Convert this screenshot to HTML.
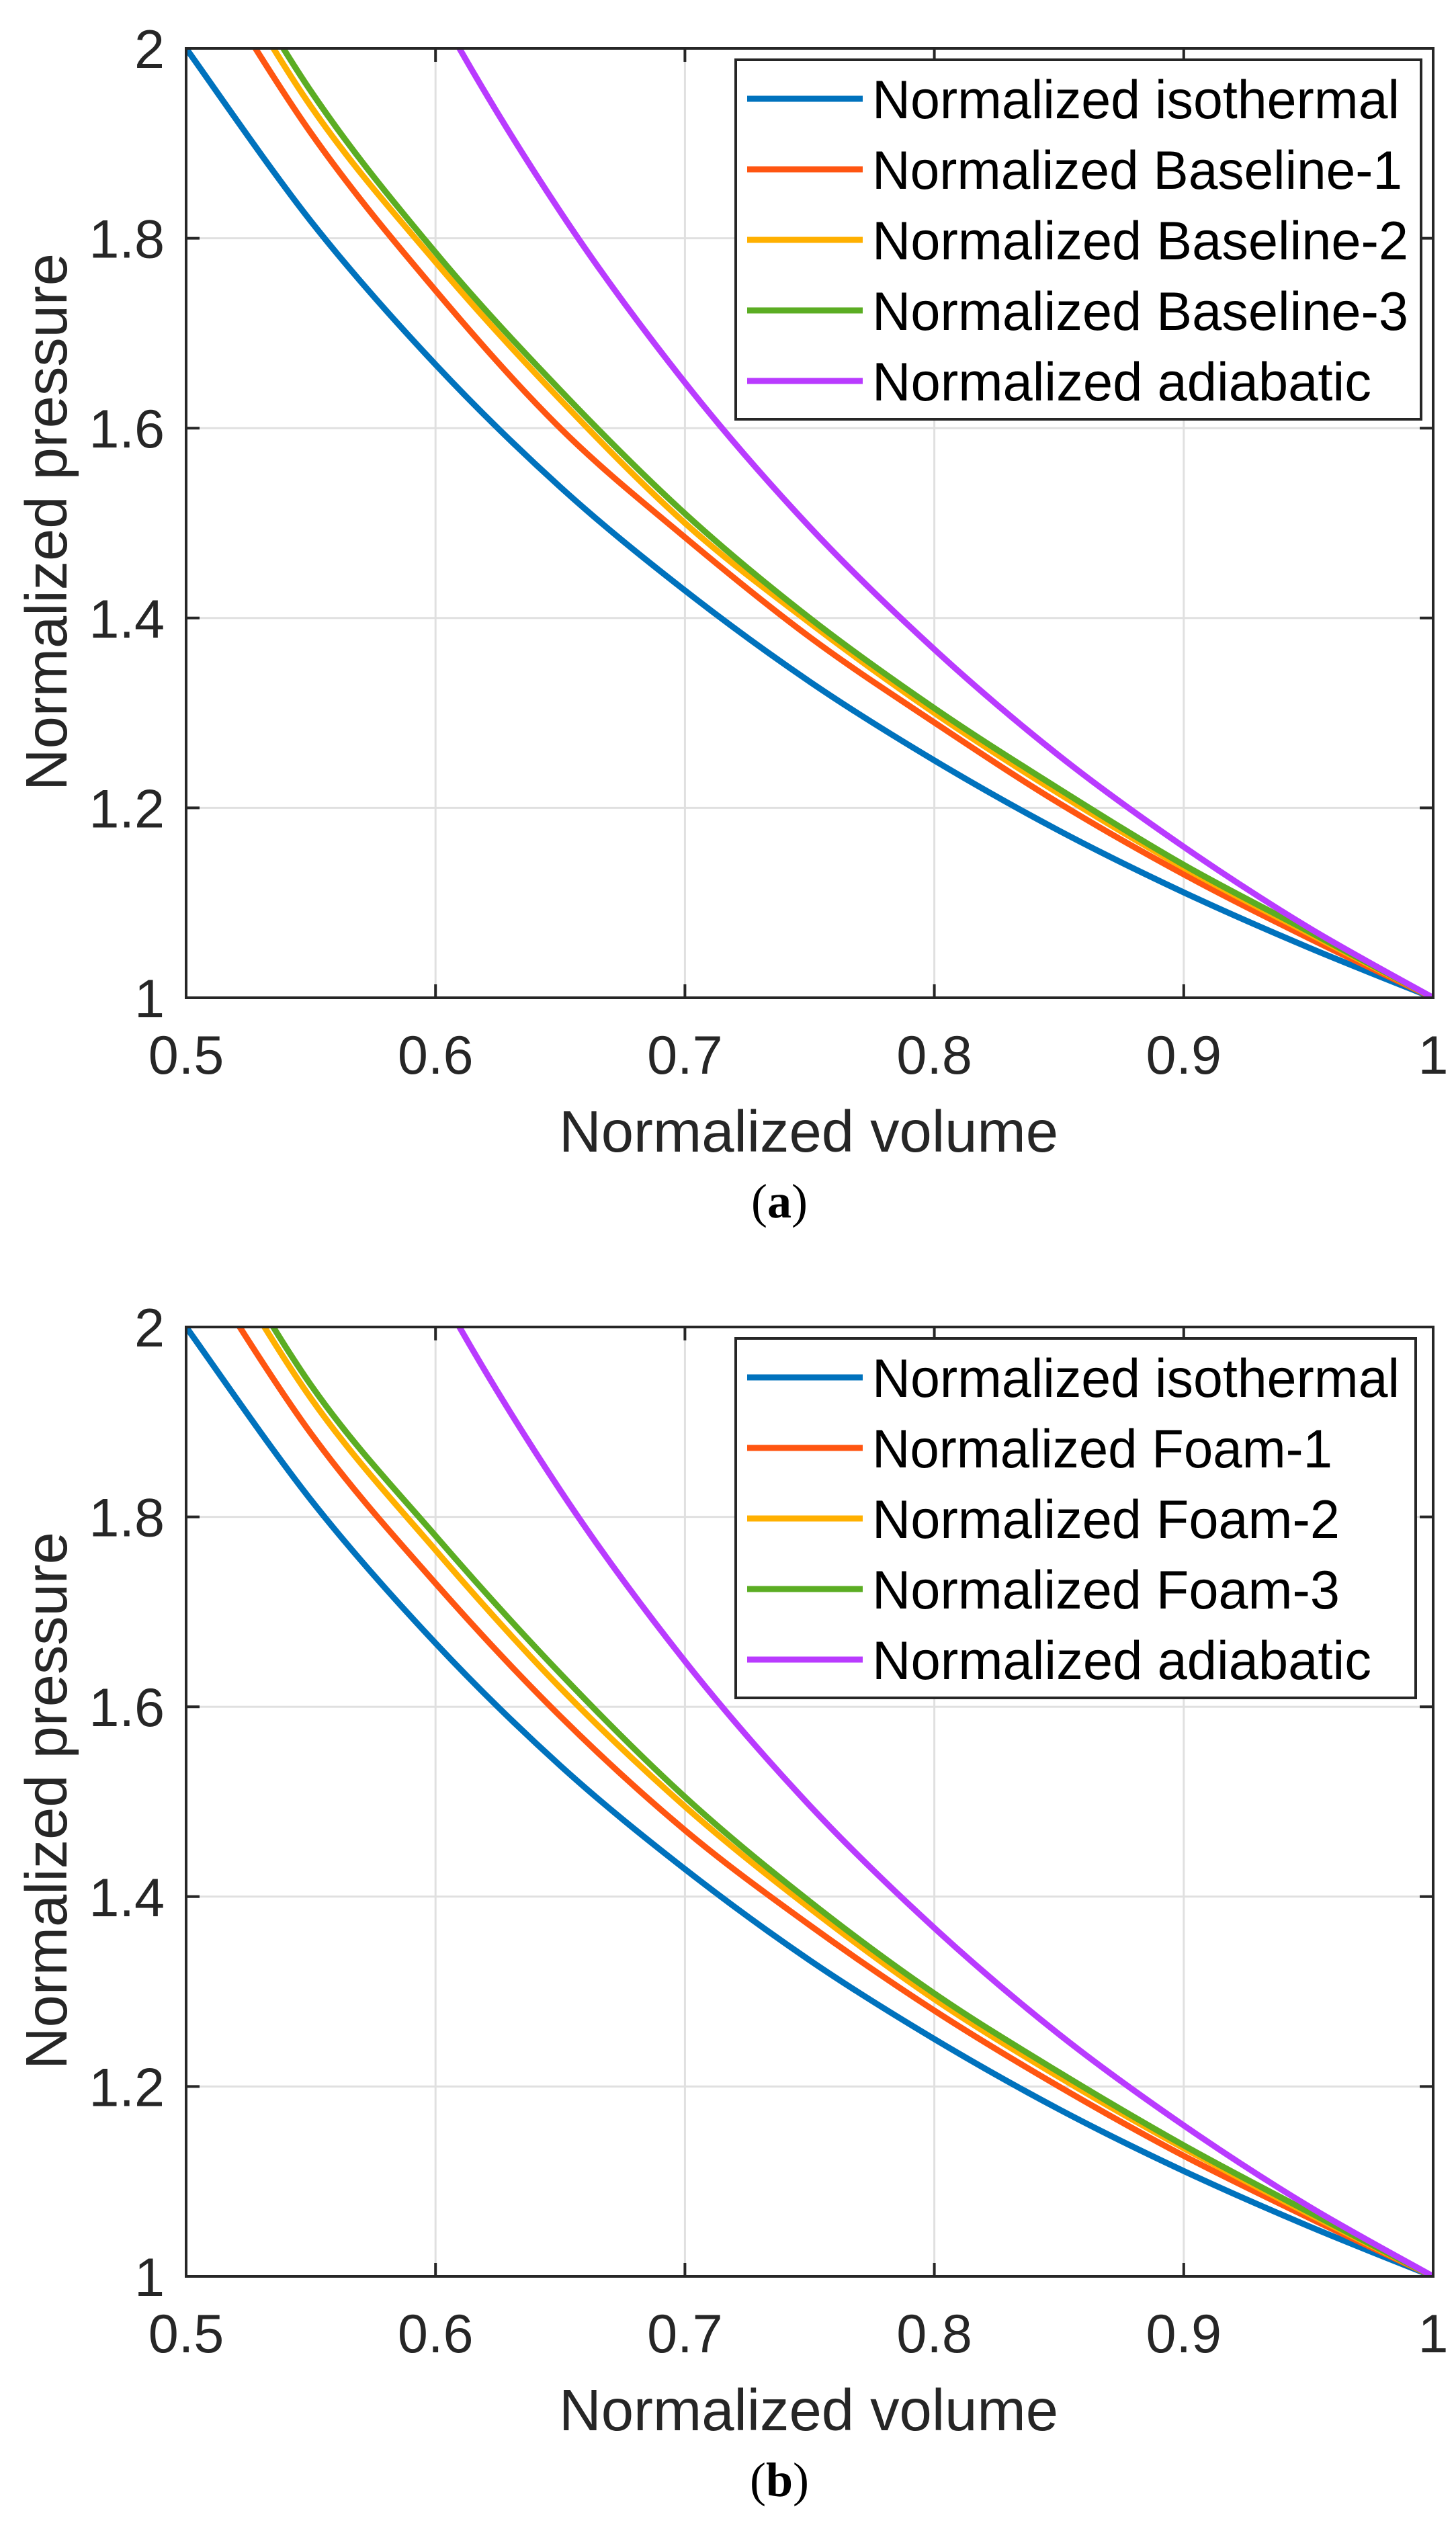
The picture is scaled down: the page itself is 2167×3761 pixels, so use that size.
<!DOCTYPE html>
<html><head><meta charset="utf-8"><style>html,body{margin:0;padding:0;background:#fff}svg{display:block}</style></head>
<body>
<svg id="fig" xmlns="http://www.w3.org/2000/svg" width="2167" height="3761" viewBox="0 0 2167 3761"></svg>
<script>
// shared x samples (normalized volume)
const volumes = [0.5,0.55,0.6,0.65,0.7,0.75,0.8,0.85,0.9,0.95,1.0];
const xTicks = [0.5,0.6,0.7,0.8,0.9,1];
const xTickLabels = ["0.5","0.6","0.7","0.8","0.9","1"];
const yTicks = [1,1.2,1.4,1.6,1.8,2];
const yTickLabels = ["1","1.2","1.4","1.6","1.8","2"];
// panel (a)
const isothermal = [2,1.818,1.667,1.538,1.429,1.333,1.25,1.176,1.111,1.053,1];
const baseline1 = [2.118,1.911,1.745,1.600,1.485,1.380,1.290,1.205,1.130,1.063,1];
const baseline2 = [2.155,1.939,1.775,1.630,1.500,1.395,1.300,1.215,1.137,1.068,1];
const baseline3 = [2.173,1.955,1.785,1.640,1.510,1.400,1.305,1.220,1.140,1.070,1];
const adiabatic = [2.639,2.309,2.045,1.828,1.648,1.496,1.367,1.255,1.159,1.074,1];
// panel (b)
const foam1 = [2.089,1.888,1.730,1.590,1.470,1.370,1.280,1.200,1.127,1.062,1];
const foam2 = [2.137,1.925,1.765,1.620,1.495,1.388,1.292,1.210,1.135,1.066,1];
const foam3 = [2.155,1.939,1.780,1.635,1.505,1.395,1.298,1.215,1.138,1.068,1];
const labelsA = ["Normalized isothermal","Normalized Baseline-1","Normalized Baseline-2","Normalized Baseline-3","Normalized adiabatic"];
const labelsB = ["Normalized isothermal","Normalized Foam-1","Normalized Foam-2","Normalized Foam-3","Normalized adiabatic"];

const NS="http://www.w3.org/2000/svg";
const svg=document.getElementById('fig');
const colors=["#0072BD","#FF5511","#FFB000","#5BAD23","#B93BFF"];
function mk(tag,attrs,parent){const e=document.createElementNS(NS,tag);for(const k in attrs)e.setAttribute(k,attrs[k]);(parent||svg).appendChild(e);return e;}

function panel(id,oy,series,labels,legW,textW,caption){
  const L=277,R=2133,T=72+oy,B=1485+oy;
  const sx=v=>L+(v-0.5)/0.5*(R-L);
  const sy=p=>B-(p-1)/1*(B-T);
  const g=mk('g',{});
  
  
  const cp=mk('clipPath',{id:'clip'+id},g);
  mk('rect',{x:L,y:T,width:R-L,height:B-T},cp);
  xTicks.forEach(v=>{if(v>0.5&&v<1){const l=mk('line',{x1:sx(v),x2:sx(v),y1:T,y2:B,stroke:'#e0e0e0','stroke-width':3},g);
    
    }});
  yTicks.forEach(p=>{if(p>1&&p<2){const l=mk('line',{x1:L,x2:R,y1:sy(p),y2:sy(p),stroke:'#e0e0e0','stroke-width':3},g);
    
    }});
  series.forEach((s,i)=>{
    const pts=volumes.map((v,j)=>[sx(v),sy(s[j])]);
    let d='M'+pts[0][0]+','+pts[0][1];
    for(let j=0;j<pts.length-1;j++){
      const p0=pts[Math.max(0,j-1)],p1=pts[j],p2=pts[j+1],p3=pts[Math.min(pts.length-1,j+2)];
      const c1=[p1[0]+(p2[0]-p0[0])/6,p1[1]+(p2[1]-p0[1])/6];
      const c2=[p2[0]-(p3[0]-p1[0])/6,p2[1]-(p3[1]-p1[1])/6];
      d+=' C'+c1.join(',')+' '+c2.join(',')+' '+p2.join(',');
    }
    const path=mk('path',{d:d,fill:'none',stroke:colors[i],'stroke-width':9,'clip-path':'url(#clip'+id+')'},g);
    
    
  });
  const box=mk('rect',{x:L,y:T,width:R-L,height:B-T,fill:'none',stroke:'#262626','stroke-width':4},g);
  
  
  xTicks.forEach((v,i)=>{
    mk('line',{x1:sx(v),x2:sx(v),y1:B,y2:B-20,stroke:'#262626','stroke-width':4},g);
    mk('line',{x1:sx(v),x2:sx(v),y1:T,y2:T+20,stroke:'#262626','stroke-width':4},g);
    const t=mk('text',{x:sx(v),y:B+113,'text-anchor':'middle','font-size':81,fill:'#262626','font-family':'Liberation Sans, sans-serif'},g);
    t.textContent=xTickLabels[i];
    
    
  });
  yTicks.forEach((p,i)=>{
    mk('line',{x1:L,x2:L+20,y1:sy(p),y2:sy(p),stroke:'#262626','stroke-width':4},g);
    mk('line',{x1:R,x2:R-20,y1:sy(p),y2:sy(p),stroke:'#262626','stroke-width':4},g);
    const t=mk('text',{x:245,y:sy(p)+29,'text-anchor':'end','font-size':81,fill:'#262626','font-family':'Liberation Sans, sans-serif'},g);
    t.textContent=yTickLabels[i];
    
    
  });
  const xt=mk('text',{x:832,y:1714+oy,'font-size':87,fill:'#262626',textLength:743,lengthAdjust:'spacingAndGlyphs','font-family':'Liberation Sans, sans-serif'},g);
  xt.textContent='Normalized volume';
  
  
  const yc=777+oy;
  const yt=mk('text',{x:0,y:0,'font-size':87,fill:'#262626','text-anchor':'middle',textLength:800,lengthAdjust:'spacingAndGlyphs',transform:'translate(99,'+yc+') rotate(-90)','font-family':'Liberation Sans, sans-serif'},g);
  yt.textContent='Normalized pressure';
  
  
  const lt=89+oy;
  const lg=mk('g',{},g);
  
  
  mk('rect',{x:1095,y:lt,width:legW,height:535,fill:'#fff',stroke:'#262626','stroke-width':4},lg);
  labels.forEach((lab,i)=>{
    const cy=lt+58+i*105;
    const e=mk('g',{},lg);
    
    
    mk('line',{x1:1112,x2:1284,y1:cy,y2:cy,stroke:colors[i],'stroke-width':9},e);
    const t=mk('text',{x:1298,y:cy+29,'font-size':81,fill:'#000',textLength:textW[i],lengthAdjust:'spacingAndGlyphs','font-family':'Liberation Sans, sans-serif'},e);
    t.textContent=lab;
  });
  const c=mk('text',{x:1160,y:1812+oy,'text-anchor':'middle','font-size':72,fill:'#000','font-family':'Liberation Serif, serif'},g);
  c.innerHTML='(<tspan font-weight="bold">'+caption+'</tspan>)';
  
  
}
panel('a',0,[isothermal,baseline1,baseline2,baseline3,adiabatic],labelsA,1020,[785,789,798,798,743],'a');
panel('b',1903,[isothermal,foam1,foam2,foam3,adiabatic],labelsB,1012,[785,685,696,696,743],'b');
</script>
</body></html>
